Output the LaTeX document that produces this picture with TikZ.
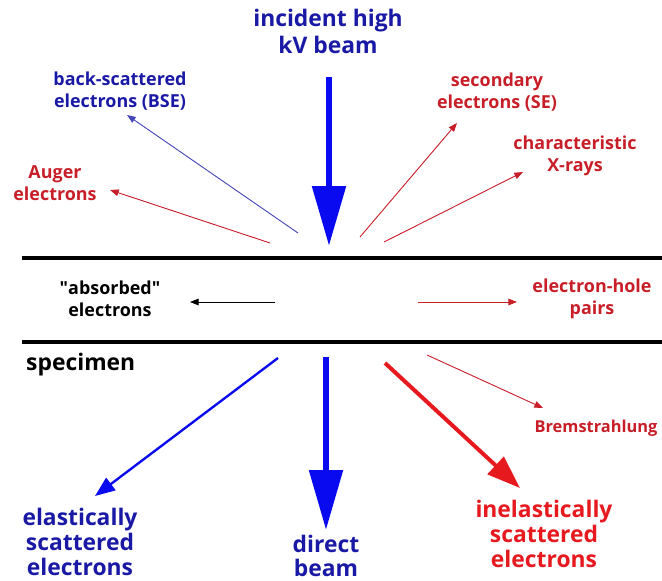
\documentclass[tikz,border=0pt]{standalone}
\usepackage{fontspec}
\setmainfont{Open Sans}
\usetikzlibrary{arrows.meta}
\definecolor{beamblue}{RGB}{10,10,240}
\definecolor{textblue}{RGB}{25,25,165}
\definecolor{bseblue}{RGB}{70,70,185}
\definecolor{sigred}{RGB}{230,25,30}
\definecolor{textred}{RGB}{200,30,40}
\tikzset{
  surface/.style={line width=3.4pt,draw=black},
  bigbeam/.style={-{Triangle[length=1.8cm,width=0.98cm]},line width=5.5pt,draw=beamblue},
  elastarr/.style={-{Triangle[length=6mm,width=4.6mm]},line width=2pt,draw=beamblue},
  inelastarr/.style={-{Triangle[length=10mm,width=7mm]},line width=3.4pt,draw=sigred},
  thinarr/.style={-{Triangle[length=2.6mm,width=2mm]},line width=.75pt},
  biglabel/.style={font=\bfseries\fontsize{19.5}{21}\selectfont,align=center},
  titlelabel/.style={font=\bfseries\fontsize{19.5}{23}\selectfont,align=center,text=textblue},
  smalllabel/.style={font=\bfseries\fontsize{15.3}{18.7}\selectfont,align=center}
}

\begin{document}
\begin{tikzpicture}[x=0.03cm,y=-0.03cm]
  \useasboundingbox (0,0) rectangle (662,581);

  % specimen surfaces
  \coordinate (topL) at (22,258);
  \coordinate (topR) at (662,258);
  \coordinate (botL) at (22,342);
  \coordinate (botR) at (662,342);
  \draw[surface] (topL)--(topR);
  \draw[surface] (botL)--(botR);

  % labels
  \node[titlelabel] (incident) at (328,31) {incident high\\kV beam};
  \node[smalllabel,text=textblue] (bse) at (120,91) {back-scattered\\electrons (BSE)};
  \node[smalllabel,text=textred] (auger) at (55,183) {Auger\\electrons};
  \node[smalllabel,text=textred] (se) at (497,92) {secondary\\electrons (SE)};
  \node[smalllabel,text=textred] (xray) at (575,156) {characteristic\\X-rays};
  \node[smalllabel,text=black] (absorbed) at (110,299) {\textquotedbl absorbed\textquotedbl\\electrons};
  \node[smalllabel,text=textred] (ehpairs) at (592,299) {electron-hole\\pairs};
  \node[font=\bfseries\fontsize{19.5}{21}\selectfont,anchor=west,inner sep=0pt] (specimen) at (26,365) {specimen};
  \node[font=\bfseries\fontsize{14}{16}\selectfont,text=textred] (brems) at (596,428) {Bremstrahlung};
  \node[biglabel,text=textblue] (elastic) at (80,542) {elastically\\scattered\\electrons};
  \node[biglabel,text=textblue] (direct) at (326,556) {direct\\beam};
  \node[biglabel,text=sigred] (inelastic) at (544,534) {inelastically\\scattered\\electrons};

  % arrow ends
  \coordinate (inS) at (329,77);
  \coordinate (inE) at (329,246);
  \coordinate (bseS) at (298,233);
  \coordinate (bseE) at (127,115);
  \coordinate (augS) at (270,243);
  \coordinate (augE) at (110,190);
  \coordinate (seS) at (360,237);
  \coordinate (seE) at (457,123);
  \coordinate (xrS) at (384,242);
  \coordinate (xrE) at (523,172);
  \coordinate (abS) at (275,302);
  \coordinate (abE) at (190,302);
  \coordinate (ehS) at (418,302);
  \coordinate (ehE) at (517,302);
  \coordinate (elS) at (278,358);
  \coordinate (elE) at (95,496);
  \coordinate (dbS) at (326,357);
  \coordinate (dbE) at (326,530);
  \coordinate (ieS) at (385,363);
  \coordinate (ieE) at (520,488);
  \coordinate (brS) at (427,355);
  \coordinate (brE) at (543,408);

  \draw[bigbeam] (inS)--(inE);
  \draw[thinarr,draw=bseblue,fill=bseblue] (bseS)--(bseE);
  \draw[thinarr,draw=textred,fill=textred] (augS)--(augE);
  \draw[thinarr,draw=textred,fill=textred] (seS)--(seE);
  \draw[thinarr,draw=textred,fill=textred] (xrS)--(xrE);
  \draw[thinarr,draw=black,fill=black] (abS)--(abE);
  \draw[thinarr,draw=textred,fill=textred] (ehS)--(ehE);
  \draw[elastarr] (elS)--(elE);
  \draw[bigbeam] (dbS)--(dbE);
  \draw[inelastarr] (ieS)--(ieE);
  \draw[thinarr,draw=textred,fill=textred] (brS)--(brE);
\end{tikzpicture}
\end{document}
